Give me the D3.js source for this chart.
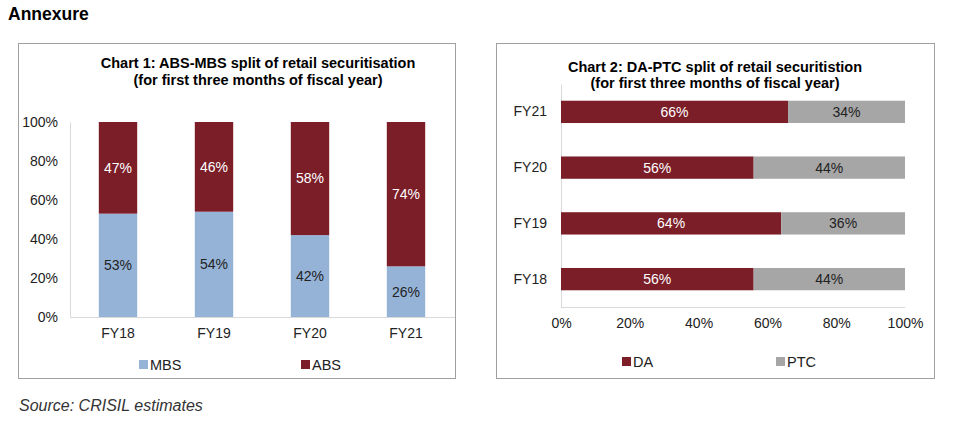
<!DOCTYPE html>
<html><head><meta charset="utf-8">
<script src="https://cdn.jsdelivr.net/npm/d3@7"></script>
<style>body{margin:0;background:#fff;}svg{display:block;font-family:"Liberation Sans",Arial,sans-serif;}</style>
</head><body>
<svg id="c" width="961" height="425"></svg>
<script>
const years = ["FY18","FY19","FY20","FY21"];
const mbs = [53,54,42,26];
const abs = [47,46,58,74];
const da = [56,64,56,66];
const ptc = [44,36,44,34];
const pctTicks = [0,20,40,60,80,100];
const colMBS = "#95B3D7", colABS = "#7B1E28", colPTC = "#A6A6A6";

const svg = d3.select("#c");
svg.append("text").attr("x",8).attr("y",20).attr("font-size",17.5).attr("font-weight","bold").attr("fill","#000").text("Annexure");
svg.append("text").attr("x",19).attr("y",411).attr("font-size",16).attr("font-style","italic").attr("fill","#333").text("Source: CRISIL estimates");

// panels
svg.append("rect").attr("x",18.5).attr("y",43.5).attr("width",437).attr("height",335).attr("fill","none").attr("stroke","#A0A0A0");
svg.append("rect").attr("x",496.5).attr("y",43.5).attr("width",438).attr("height",335).attr("fill","none").attr("stroke","#A0A0A0");

// ---- Chart 1
const g1 = svg.append("g");
g1.append("text").attr("x",258).attr("y",68).attr("text-anchor","middle").attr("font-size",14.5).attr("font-weight","bold").text("Chart 1: ABS-MBS split of retail securitisation");
g1.append("text").attr("x",258).attr("y",85).attr("text-anchor","middle").attr("font-size",14.5).attr("font-weight","bold").text("(for first three months of fiscal year)");
const x1 = d3.scaleBand().domain(years).range([70,454]).paddingInner(0.6).paddingOuter(0.3);
const y1 = d3.scaleLinear().domain([0,100]).range([317,122]);
const yAx1 = g1.append("g").attr("transform","translate(70,0)").call(d3.axisLeft(y1).tickValues(pctTicks).tickFormat(d=>d+"%").tickSize(0).tickPadding(12));
yAx1.select(".domain").attr("stroke","#D9D9D9");
yAx1.selectAll("text").attr("font-size",14).attr("fill","#222").attr("font-family","Liberation Sans, Arial, sans-serif");
const xAx1 = g1.append("g").attr("transform","translate(0,317)").call(d3.axisBottom(x1).tickSize(0).tickPadding(11));
xAx1.select(".domain").attr("stroke","#D9D9D9").attr("d","M70,0.5H455");
xAx1.selectAll("text").attr("font-size",14).attr("fill","#222").attr("font-family","Liberation Sans, Arial, sans-serif");
years.forEach((yr,i)=>{
  const bx = x1(yr), bw = x1.bandwidth();
  g1.append("rect").attr("x",bx).attr("width",bw).attr("y",y1(mbs[i])).attr("height",y1(0)-y1(mbs[i])).attr("fill",colMBS);
  g1.append("rect").attr("x",bx).attr("width",bw).attr("y",y1(mbs[i]+abs[i])).attr("height",y1(mbs[i])-y1(mbs[i]+abs[i])).attr("fill",colABS);
  g1.append("text").attr("x",bx+bw/2).attr("y",(y1(0)+y1(mbs[i]))/2).attr("dy","0.35em").attr("text-anchor","middle").attr("font-size",14).attr("fill","#222").text(mbs[i]+"%");
  g1.append("text").attr("x",bx+bw/2).attr("y",(y1(mbs[i])+y1(mbs[i]+abs[i]))/2).attr("dy","0.35em").attr("text-anchor","middle").attr("font-size",14).attr("fill","#fff").text(abs[i]+"%");
});
const leg1 = [["MBS",colMBS,139],["ABS",colABS,301]];
leg1.forEach(([n,c,x])=>{
  g1.append("rect").attr("x",x).attr("y",360).attr("width",9).attr("height",9).attr("fill",c);
  g1.append("text").attr("x",x+11).attr("y",364.5).attr("dy","0.35em").attr("font-size",14.5).attr("fill","#222").text(n);
});

// ---- Chart 2
const g2 = svg.append("g");
g2.append("text").attr("x",715).attr("y",72).attr("text-anchor","middle").attr("font-size",14.5).attr("font-weight","bold").text("Chart 2: DA-PTC split of retail securitistion");
g2.append("text").attr("x",715).attr("y",88).attr("text-anchor","middle").attr("font-size",14.5).attr("font-weight","bold").text("(for first three months of fiscal year)");
const cats2 = years.slice().reverse();
const y2 = d3.scaleBand().domain(cats2).range([84,307]).paddingInner(0.6).paddingOuter(0.3);
const x2 = d3.scaleLinear().domain([0,100]).range([561,905]);
const yAx2 = g2.append("g").attr("transform","translate(561,0)").call(d3.axisLeft(y2).tickSize(0).tickPadding(14));
yAx2.select(".domain").attr("stroke","#D9D9D9");
yAx2.selectAll("text").attr("font-size",14).attr("fill","#222").attr("font-family","Liberation Sans, Arial, sans-serif");
const xAx2 = g2.append("g").attr("transform","translate(0,307)").call(d3.axisBottom(x2).tickValues(pctTicks).tickFormat(d=>d+"%").tickSize(0).tickPadding(11));
xAx2.select(".domain").attr("stroke","#D9D9D9").attr("d","M561,0.5H905");
xAx2.selectAll("text").attr("font-size",14).attr("fill","#222").attr("font-family","Liberation Sans, Arial, sans-serif");
years.forEach((yr,i)=>{
  const by = y2(yr), bh = y2.bandwidth();
  g2.append("rect").attr("y",by).attr("height",bh).attr("x",x2(0)).attr("width",x2(da[i])-x2(0)).attr("fill",colABS);
  g2.append("rect").attr("y",by).attr("height",bh).attr("x",x2(da[i])).attr("width",x2(da[i]+ptc[i])-x2(da[i])).attr("fill",colPTC);
  g2.append("text").attr("y",by+bh/2).attr("dy","0.35em").attr("x",(x2(0)+x2(da[i]))/2).attr("text-anchor","middle").attr("font-size",14).attr("fill","#fff").text(da[i]+"%");
  g2.append("text").attr("y",by+bh/2).attr("dy","0.35em").attr("x",(x2(da[i])+x2(da[i]+ptc[i]))/2).attr("text-anchor","middle").attr("font-size",14).attr("fill","#222").text(ptc[i]+"%");
});
const leg2 = [["DA",colABS,622],["PTC",colPTC,776]];
leg2.forEach(([n,c,x])=>{
  g2.append("rect").attr("x",x).attr("y",357).attr("width",9).attr("height",9).attr("fill",c);
  g2.append("text").attr("x",x+11).attr("y",361.5).attr("dy","0.35em").attr("font-size",14.5).attr("fill","#222").text(n);
});
</script>
</body></html>
